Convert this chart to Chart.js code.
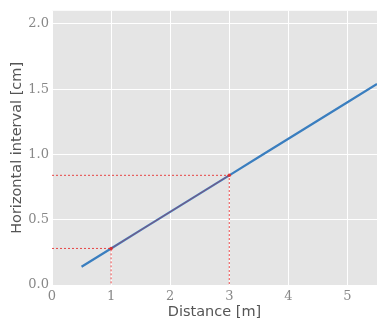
<!DOCTYPE html>
<html>
<head>
<meta charset="utf-8">
<script src="https://cdn.jsdelivr.net/npm/chart.js@4/dist/chart.umd.min.js"></script>
<style>
	html, body { margin:0; padding:0; background:#fff; }
	#wrap { width:391px; height:325px; }
</style>
</head>
<body>
<div id="wrap"><canvas id="chart"></canvas></div>
<script>
// values
const distance = [0.5, 1, 1.5, 2, 2.5, 3, 3.5, 4, 4.5, 5, 5.5]
const interval = [0.14, 0.28, 0.42, 0.56, 0.70, 0.84, 0.98, 1.12, 1.26, 1.40, 1.54]
const markX = [1, 3]
const markY = [0.28, 0.84]
const xTicks = [0, 1, 2, 3, 4, 5]
const yTicks = [0.0, 0.5, 1.0, 1.5, 2.0]

const red = 'rgba(230,40,40,0.85)'

const guides = []
markX.forEach((x, i) => {
	guides.push({
		data:[{ x:0, y:markY[i] }, { x, y:markY[i] }, { x, y:0 }],
		showLine:true, borderColor:red, borderWidth:1, borderDash:[2, 2],
		pointRadius:0, order:1
	})
})

const plotBg = {
	id:'plotBg',
	beforeDraw(chart){
		const { ctx, chartArea:a } = chart
		ctx.save()
		ctx.fillStyle = '#e5e5e5'
		ctx.fillRect(a.left, a.top, a.right - a.left, a.bottom - a.top)
		ctx.restore()
	}
}

new Chart(document.getElementById('chart'), {
	type:'scatter',
	data:{
		datasets:[
			{
				data:distance.map((x, i) => ({ x, y:interval[i] })),
				showLine:true, borderColor:'#3a7ebf', borderWidth:2.2,
				pointRadius:0, order:3
			},
			...guides,
			{
				data:markX.map((x, i) => ({ x, y:markY[i] })),
				showLine:true, borderColor:'rgba(200,40,60,0.55)', borderWidth:1,
				pointRadius:1.8, pointBackgroundColor:red, pointBorderWidth:0, order:0
			}
		]
	},
	plugins:[plotBg],
	options:{
		responsive:true,
		maintainAspectRatio:false,
		animation:false,
		layout:{ padding:{ left:0, right:14, top:9, bottom:0 } },
		plugins:{ legend:{ display:false }, tooltip:{ enabled:false } },
		scales:{
			x:{
				type:'linear', min:0, max:5.5,
				afterFit: s => { s.height = 40 },
				afterBuildTicks: s => { s.ticks = xTicks.map(v => ({ value:v })) },
				grid:{ color:'#ffffff', lineWidth:1, drawTicks:false },
				border:{ display:false },
				ticks:{ color:'#888', padding:4, font:{ family:'DejaVu Serif', size:13 }, callback: v => String(v) },
				title:{ display:true, text:'Distance [m]', color:'#555', padding:{ top:3 }, font:{ family:'DejaVu Sans', size:14.5 } }
			},
			y:{
				type:'linear', min:0, max:2.1,
				afterFit: s => { s.width = 52 },
				afterBuildTicks: s => { s.ticks = yTicks.map(v => ({ value:v })) },
				grid:{ color:'#ffffff', lineWidth:1, drawTicks:false },
				border:{ display:false },
				ticks:{ color:'#888', padding:3, font:{ family:'DejaVu Serif', size:13 }, callback: v => v.toFixed(1) },
				title:{ display:true, text:'Horizontal interval [cm]', color:'#555', padding:{ top:9, bottom:0 }, font:{ family:'DejaVu Sans', size:14.5 } }
			}
		}
	}
})
</script>
</body>
</html>
